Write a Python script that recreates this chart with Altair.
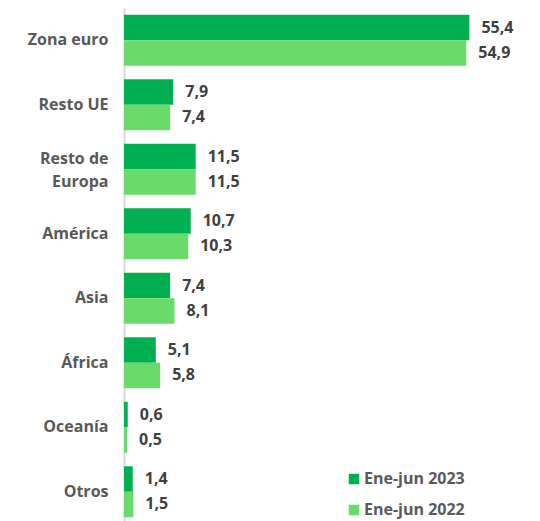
import altair as alt
import pandas as pd

categories = ["Zona euro", "Resto UE", "Resto de|Europa", "América", "Asia", "África", "Oceanía", "Otros"]
series = ["Ene-jun 2023", "Ene-jun 2022"]
values_2023 = [55.4, 7.9, 11.5, 10.7, 7.4, 5.1, 0.6, 1.4]
values_2022 = [54.9, 7.4, 11.5, 10.3, 8.1, 5.8, 0.5, 1.5]
colors = ["#00B050", "#69DB6B"]

rows = []
for c, a, b in zip(categories, values_2023, values_2022):
    rows.append({"cat": c, "serie": series[0], "value": a})
    rows.append({"cat": c, "serie": series[1], "value": b})
df = pd.DataFrame(rows)

FONT = "Open Sans"
FS = 16

base = alt.Chart(df).transform_calculate(
    label="replace(format(datum.value, '.1f'), '.', ',')"
)

y_enc = alt.Y(
    "cat:N",
    sort=categories,
    scale=alt.Scale(paddingInner=0.21, paddingOuter=0.105),
    axis=alt.Axis(
        title=None,
        ticks=False,
        grid=False,
        domainColor="#D9D9D9",
        domainWidth=2,
        labelFont=FONT,
        labelFontSize=FS,
        labelFontWeight="bold",
        labelColor="#595959",
        labelPadding=16,
        labelExpr="split(datum.label, '|')",
        labelLineHeight=23,
        labelLimit=200,
        labelOffset={"condition": {"test": "indexof(datum.value, '|') >= 0", "value": -10}, "value": 0},
    ),
)
x_enc = alt.X("value:Q", scale=alt.Scale(domain=[0, 64]), axis=None)
yoff = alt.YOffset("serie:N", sort=series)

bars = base.mark_bar(cornerRadius=0).encode(
    y=y_enc,
    x=x_enc,
    yOffset=yoff,
    color=alt.Color(
        "serie:N",
        sort=series,
        scale=alt.Scale(domain=series, range=colors),
        legend=alt.Legend(
            title=None,
            orient="none",
            legendX=222,
            legendY=463,
            symbolType="square",
            symbolSize=110,
            symbolStrokeWidth=0,
            labelFont=FONT,
            labelFontSize=FS,
            labelFontWeight="bold",
            labelColor="#595959",
            rowPadding=15,
            labelOffset=2,
        ),
    ),
)

text = base.mark_text(
    align="left", baseline="middle", dx=12, font=FONT, fontSize=FS,
    fontWeight="bold", color="#404040"
).encode(
    y=alt.Y("cat:N", sort=categories),
    x=x_enc,
    yOffset=yoff,
    text="label:N",
)

chart = (bars + text).properties(
    width=399,
    height=516,
    padding={"left": 116, "top": 0, "right": 0, "bottom": 0},
    autosize=alt.AutoSizeParams(type="none"),
).configure_view(stroke=None)

chart.save("out.html", embed_options={"renderer": "svg", "actions": False})
